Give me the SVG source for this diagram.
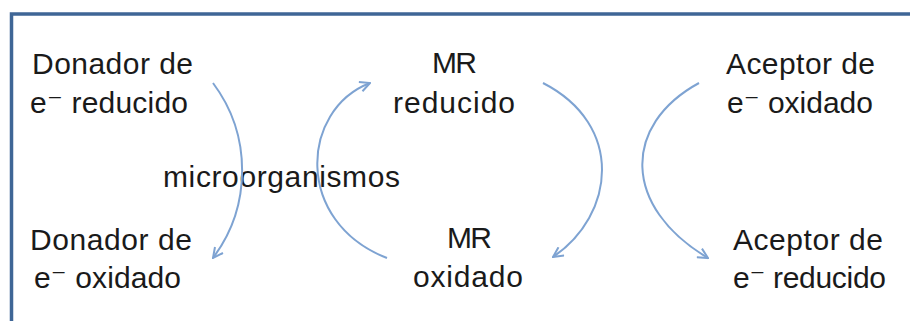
<svg xmlns="http://www.w3.org/2000/svg" width="910" height="321" viewBox="0 0 910 321">
<style>
  .t { font-family: "Liberation Sans", "DejaVu Sans", sans-serif; font-size: 30px; fill: #1a1a1a; }
  .arc { fill: none; stroke: #7ea3d2; stroke-width: 2; }
</style>
<defs>
  <marker id="chev" viewBox="0 0 12 12" refX="11" refY="6" markerWidth="12" markerHeight="12" markerUnits="userSpaceOnUse" orient="auto">
    <path d="M1,1 L11,6 L1,11" fill="none" stroke="#7ea3d2" stroke-width="2"/>
  </marker>
</defs>
<rect x="11.5" y="14" width="920" height="400" fill="#ffffff" stroke="#3f6696" stroke-width="3.5"/>
<g id="donador-reducido">
  <text class="t" x="32" y="74" textLength="161" lengthAdjust="spacing">Donador de</text>
  <text class="t" x="30" y="113" textLength="158" lengthAdjust="spacing">e⁻ reducido</text>
</g>
<g id="donador-oxidado">
  <text class="t" x="30" y="250" textLength="162" lengthAdjust="spacing">Donador de</text>
  <text class="t" x="34" y="288" textLength="147" lengthAdjust="spacing">e⁻ oxidado</text>
</g>
<g id="microorganismos">
  <text class="t" x="163" y="187" textLength="237" lengthAdjust="spacing">microorganismos</text>
</g>
<g id="mr-reducido">
  <text class="t" x="432" y="73" textLength="45" lengthAdjust="spacing">MR</text>
  <text class="t" x="393" y="113" textLength="122" lengthAdjust="spacing">reducido</text>
</g>
<g id="mr-oxidado">
  <text class="t" x="447" y="248" textLength="45" lengthAdjust="spacing">MR</text>
  <text class="t" x="413" y="287" textLength="110" lengthAdjust="spacing">oxidado</text>
</g>
<g id="aceptor-oxidado">
  <text class="t" x="726" y="74" textLength="149" lengthAdjust="spacing">Aceptor de</text>
  <text class="t" x="727" y="113" textLength="146" lengthAdjust="spacing">e⁻ oxidado</text>
</g>
<g id="aceptor-reducido">
  <text class="t" x="733" y="250" textLength="150" lengthAdjust="spacing">Aceptor de</text>
  <text class="t" x="733" y="288" textLength="153" lengthAdjust="spacing">e⁻ reducido</text>
</g>
<g id="connectors">
  <path class="arc" d="M213,83 A146,146 0 0 1 213,258" marker-end="url(#chev)"/>
  <path class="arc" d="M387,258 C294,222 300,110 370,83" marker-end="url(#chev)"/>
  <path class="arc" d="M543,83 C625,125 615,215 553,257" marker-end="url(#chev)"/>
  <path class="arc" d="M699,83 C622,125 622,207 708,258" marker-end="url(#chev)"/>
</g>
</svg>
